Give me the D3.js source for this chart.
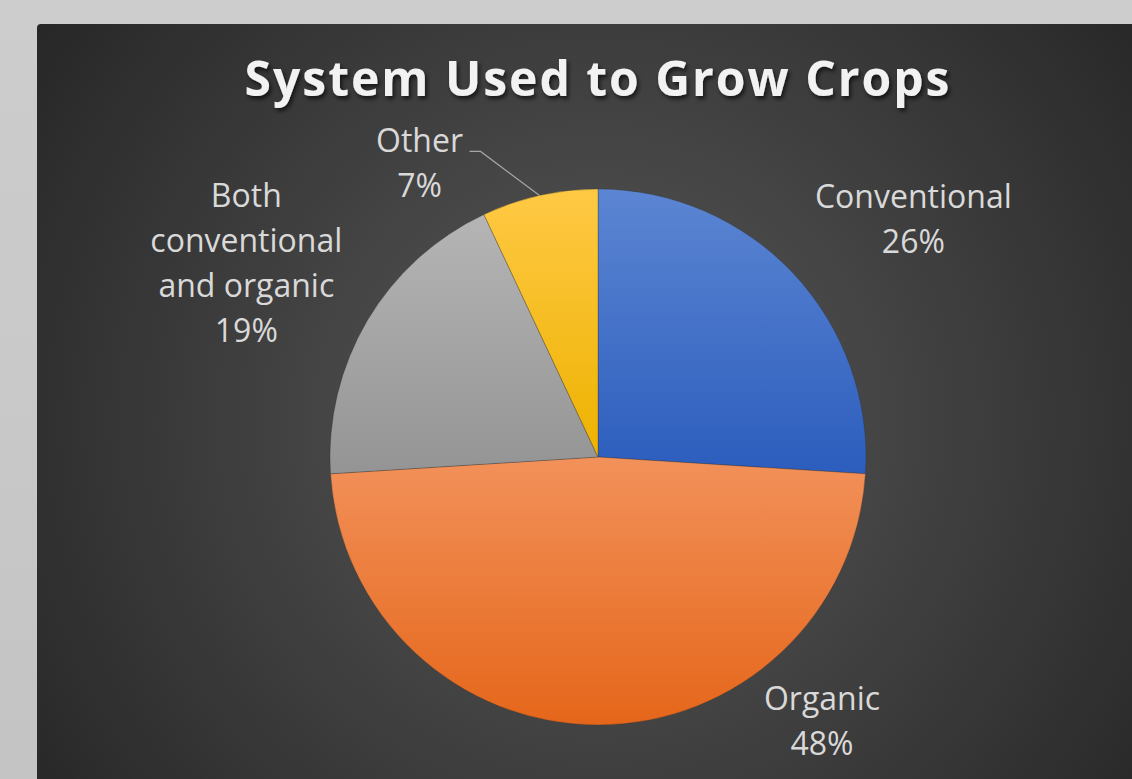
<!DOCTYPE html>
<html>
<head>
<meta charset="utf-8">
<script src="https://cdn.jsdelivr.net/npm/d3@7"></script>
<style>
  html, body { margin: 0; padding: 0; background: #cbcacb; }
  svg { display: block; }
</style>
</head>
<body>
<svg id="chart" width="1132" height="779"></svg>
<script>
// Survey results: system used to grow crops (percent of respondents)
const categories = ["Conventional", "Organic", "Both conventional and organic", "Other"];
const shares = [26, 48, 19, 7];
const labelLines = [["Conventional"], ["Organic"], ["Both", "conventional", "and organic"], ["Other"]];
const title = "System Used to Grow Crops";

// Slice fills: light top to dark bottom
const topColors = ["#5c86d3", "#f2915a", "#b5b5b5", "#ffc945"];
const bottomColors = ["#2c5dbd", "#e5661a", "#949494", "#edb200"];

// Label offsets from each slice's outer edge midpoint
const labelOffsets = [[120, -66], [224, -15], [-121, -114], [-120, -43]];

const W = 1132, H = 779;
const cx = 598, cy = 457, R = 268;
const fontFamily = "'Open Sans', 'Noto Sans', sans-serif";

const svg = d3.select("#chart");
const defs = svg.append("defs");

// Page backdrop
const pageGrad = defs.append("linearGradient").attr("id", "pageGrad")
  .attr("x1", 0).attr("y1", 0).attr("x2", 0).attr("y2", 1);
pageGrad.append("stop").attr("offset", 0).attr("stop-color", "#cecdce");
pageGrad.append("stop").attr("offset", 1).attr("stop-color", "#c5c4c5");
svg.append("rect").attr("width", W).attr("height", H).attr("fill", "url(#pageGrad)");

// Chart area with radial glow behind the pie
const bgGrad = defs.append("radialGradient").attr("id", "bgGrad")
  .attr("gradientUnits", "userSpaceOnUse")
  .attr("cx", cx).attr("cy", 420).attr("r", 700);
bgGrad.append("stop").attr("offset", 0).attr("stop-color", "#565656");
bgGrad.append("stop").attr("offset", 0.35).attr("stop-color", "#474747");
bgGrad.append("stop").attr("offset", 1).attr("stop-color", "#262626");
svg.append("rect")
  .attr("x", 37).attr("y", 24).attr("width", W).attr("height", H)
  .attr("rx", 4).attr("fill", "url(#bgGrad)");

// Title shadow
const shadow = defs.append("filter").attr("id", "titleShadow")
  .attr("x", "-10%").attr("y", "-30%").attr("width", "120%").attr("height", "160%");
shadow.append("feDropShadow").attr("dx", 2).attr("dy", 3).attr("stdDeviation", 2)
  .attr("flood-color", "#000").attr("flood-opacity", 0.65);

svg.append("text")
  .attr("x", cx).attr("y", 96)
  .attr("text-anchor", "middle")
  .attr("font-family", fontFamily)
  .attr("font-weight", 700)
  .attr("font-size", 48)
  .attr("letter-spacing", 2)
  .attr("fill", "#f2f2f2")
  .attr("filter", "url(#titleShadow)")
  .text(title);

// Slice gradients
categories.forEach((c, i) => {
  const g = defs.append("linearGradient").attr("id", "slice" + i)
    .attr("x1", 0).attr("y1", 0).attr("x2", 0).attr("y2", 1);
  g.append("stop").attr("offset", 0).attr("stop-color", topColors[i]);
  g.append("stop").attr("offset", 1).attr("stop-color", bottomColors[i]);
});

const pie = d3.pie().sort(null).value(d => d);
const arcs = pie(shares);
const arc = d3.arc().innerRadius(0).outerRadius(R);
const edgeArc = d3.arc().innerRadius(R).outerRadius(R);

const pieG = svg.append("g").attr("transform", `translate(${cx},${cy})`);
pieG.selectAll("path.slice")
  .data(arcs)
  .join("path")
  .attr("class", "slice")
  .attr("d", arc)
  .attr("fill", (d, i) => `url(#slice${i})`)
  .attr("stroke", "rgba(40,40,40,0.35)")
  .attr("stroke-width", 0.8);

// Data labels
const lineH = 45;
arcs.forEach((d, i) => {
  const [ex, ey] = edgeArc.centroid(d);
  const lx = ex + labelOffsets[i][0];
  const ly = ey + labelOffsets[i][1];
  const lines = labelLines[i].concat([d3.format(".0f")(d.value) + "%"]);
  const t = pieG.append("text")
    .attr("text-anchor", "middle")
    .attr("font-family", fontFamily)
    .attr("font-size", 32)
    .attr("fill", "#d9d9d9");
  lines.forEach((s, k) => {
    t.append("tspan").attr("x", lx).attr("y", ly + k * lineH).text(s);
  });
  // Leader line for the small slice, whose label sits away from it
  if (d.value < 10) {
    pieG.append("polyline")
      .attr("points", [[lx + 50, ly - 1], [lx + 61, ly - 1], [ex, ey]].map(p => p.join(",")).join(" "))
      .attr("fill", "none")
      .attr("stroke", "#a6a6a6")
      .attr("stroke-width", 1.2);
  }
});
</script>
</body>
</html>
